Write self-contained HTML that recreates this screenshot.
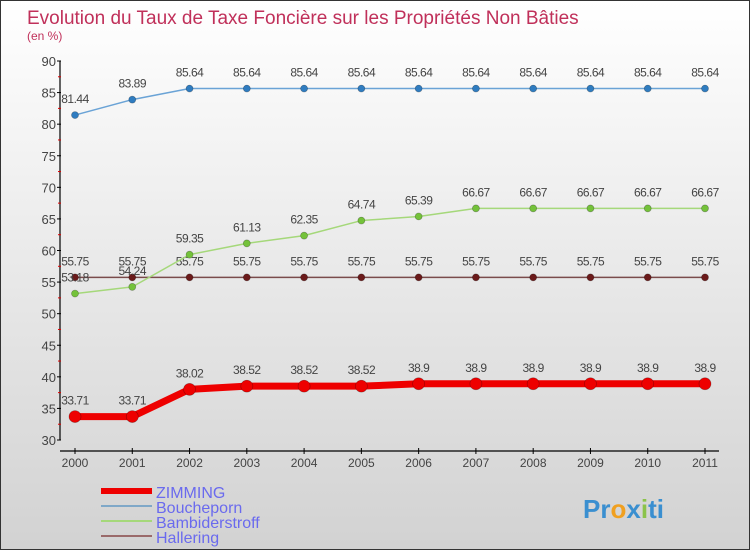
<!DOCTYPE html>
<html><head><meta charset="utf-8"><style>
body{margin:0;width:750px;height:550px;overflow:hidden;font-family:"Liberation Sans",sans-serif}
#wrap{position:relative;width:748px;height:548px;border:1px solid #333;background:linear-gradient(#ffffff,#d2d2d2)}
</style></head><body>
<div id="wrap">
<svg id="chart" width="748" height="548"></svg>
</div>
<script>
const years=["2000","2001","2002","2003","2004","2005","2006","2007","2008","2009","2010","2011"];
const yTicks=[30,35,40,45,50,55,60,65,70,75,80,85,90];
const zimming=[33.71,33.71,38.02,38.52,38.52,38.52,38.9,38.9,38.9,38.9,38.9,38.9];
const boucheporn=[81.44,83.89,85.64,85.64,85.64,85.64,85.64,85.64,85.64,85.64,85.64,85.64];
const bambiderstroff=[53.18,54.24,59.35,61.13,62.35,64.74,65.39,66.67,66.67,66.67,66.67,66.67];
const hallering=[55.75,55.75,55.75,55.75,55.75,55.75,55.75,55.75,55.75,55.75,55.75,55.75];
const seriesNames=["ZIMMING","Boucheporn","Bambiderstroff","Hallering"];

const NS="http://www.w3.org/2000/svg";
const svg=document.getElementById('chart');
function x(i){return 74+i*(704-74)/(years.length-1);}
function y(v){return 439-(v-30)*(439-60)/60;}
function mk(tag,attrs,parent){const e=document.createElementNS(NS,tag);for(const k in attrs)e.setAttribute(k,attrs[k]);(parent||svg).appendChild(e);return e;}
function txt(s,attrs,parent){const e=mk('text',attrs,parent);e.textContent=s;return e;}

let t=txt("Evolution du Taux de Taxe Foncière sur les Propriétés Non Bâties",{x:26,y:23,'font-size':19,fill:'#c0305a'});

t=txt("(en %)",{x:26,y:39,'font-size':12,fill:'#c0305a'});


let ax=mk('line',{x1:59,y1:60,x2:59,y2:439,stroke:'#000','stroke-width':1.2});

yTicks.forEach((v,i)=>{
  mk('line',{x1:56,y1:y(v),x2:60,y2:y(v),stroke:'#000'});
  if(i<yTicks.length-1) mk('line',{x1:57,y1:y(v+2.5),x2:60,y2:y(v+2.5),stroke:'#d00'});
  const l=txt(String(v),{x:55,y:y(v)+5,'font-size':13,fill:'#444','text-anchor':'end'});
  
});
ax=mk('line',{x1:59,y1:450,x2:718,y2:450,stroke:'#000','stroke-width':1.2});

years.forEach((yr,i)=>{
  mk('line',{x1:x(i),y1:447,x2:x(i),y2:453,stroke:'#000'});
  const l=txt(yr,{x:x(i),y:466,'font-size':12,fill:'#444','text-anchor':'middle'});
  
});

function series(data,color,lw,r,dot,name,labelOff){
  const g=mk('g',{});
  
  mk('polyline',{points:data.map((v,i)=>x(i)+','+y(v)).join(' '),fill:'none',stroke:color,'stroke-width':lw,'stroke-linejoin':'round'},g);
  data.forEach((v,i)=>{
    const c=mk('circle',{cx:x(i),cy:y(v),r:r,fill:dot,stroke:'rgba(0,0,0,0.3)','stroke-width':0.7},g);
    
    const l=txt(String(v),{x:x(i),y:y(v)+labelOff,'font-size':12,fill:'#444','text-anchor':'middle','letter-spacing':'-0.5'},g);
    
  });
}
series(hallering,'#7a4b4b',1.5,3.5,'#6b1a1a','hallering',-12);
series(bambiderstroff,'#a5d87a',1.5,3.5,'#74c23a','bambiderstroff',-12);
series(boucheporn,'#6aa3d6',1.5,3.5,'#2f7cc0','boucheporn',-12);
series(zimming,'#ee0000',7,6,'#ee0000','zimming',-12);

const legColors=['#ee0000','#7fa8c8','#a5d87a','#9a6a6a'];
const legW=[6,2,2,2];
seriesNames.forEach((n,i)=>{
  const g=mk('g',{});
  
  const ly=490+i*15;
  mk('line',{x1:100,y1:ly,x2:151,y2:ly,stroke:legColors[i],'stroke-width':legW[i]},g);
  txt(n,{x:155,y:ly+7,'font-size':16,fill:'#6a6aee'},g);
});
const logo=mk('g',{});

const lt=txt('',{x:582,y:517,'font-size':26,'font-weight':'bold'},logo);
[['Pr','#3a8fd0'],['o','#f0a020'],['x','#3a8fd0'],['i','#8bc34a'],['ti','#3a8fd0']].forEach(([s,c])=>{const ts=mk('tspan',{fill:c},lt);ts.textContent=s;});
</script>
</body></html>
